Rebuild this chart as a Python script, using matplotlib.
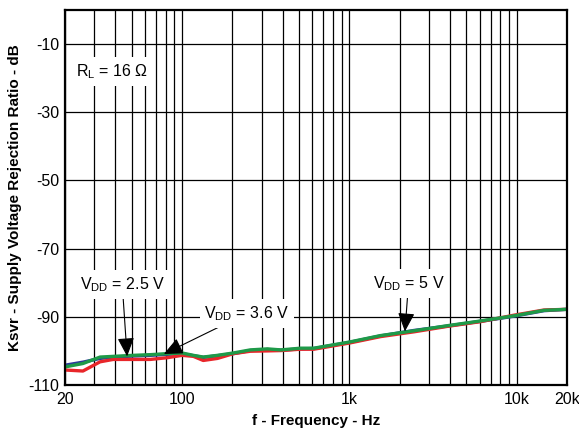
import matplotlib.pyplot as plt
from matplotlib.ticker import FixedLocator, NullFormatter

plt.rcParams['font.family'] = ['Liberation Sans', 'DejaVu Sans']
plt.rcParams['mathtext.fontset'] = 'custom'
plt.rcParams['mathtext.rm'] = 'Liberation Sans'
plt.rcParams['axes.unicode_minus'] = False

# frequency points (Hz) and KSVR curves (dB)
freq = [20, 25.6, 32.4, 38.8, 51.1, 64.6, 81.6, 100, 117, 134, 163, 203, 256,
        324, 390, 511, 614, 1000, 1538, 2437, 3862, 6110, 9690, 14560, 20000]
ksvr_green = [-104.7, -103.7, -101.8, -101.6, -101.3, -101.1, -100.8, -100.6,
              -101.3, -101.8, -101.3, -100.6, -99.7, -99.4, -99.7, -99.2, -99.2,
              -97.4, -95.5, -94.1, -92.6, -91.2, -89.7, -88.1, -87.8]
ksvr_red = [-105.6, -105.9, -103.2, -102.5, -102.5, -102.5, -102.0, -101.3,
            -101.6, -102.8, -102.2, -100.8, -100.1, -100.0, -99.9, -99.5, -99.5,
            -97.7, -95.8, -94.4, -92.8, -91.4, -89.5, -88.0, -87.8]
ksvr_blue = [-104.2, -103.3, -102.2, -101.8, -101.5, -101.3, -101.0, -100.8,
             -101.4, -101.9, -101.4, -100.8, -99.9, -99.6, -99.8, -99.4, -99.3,
             -97.5, -95.6, -94.0, -92.7, -91.3, -89.8, -88.2, -87.8]

xticks = [20, 100, 1000, 10000, 20000]
xtick_labels = ['20', '100', '1k', '10k', '20k']
yticks = [-10, -30, -50, -70, -90, -110]

fig = plt.figure(figsize=(5.79, 4.28), dpi=100)
ax = fig.add_axes([65 / 579, 1 - 385 / 428, 502 / 579, 375 / 428])

ax.plot(freq, ksvr_blue, color='#2b3a9a', lw=2.4, solid_capstyle='round')
ax.plot(freq, ksvr_red, color='#e8262a', lw=2.4, solid_capstyle='round')
ax.plot(freq, ksvr_green, color='#1e9a48', lw=2.4, solid_capstyle='round')

ax.set_xscale('log')
ax.set_xlim(20, 20000)
ax.set_ylim(-110, 0)
ax.set_xticks(xticks)
ax.set_xticklabels(xtick_labels)
ax.xaxis.set_minor_locator(FixedLocator(
    [m * 10 ** e for e in range(1, 5) for m in range(2, 10) if 20 < m * 10 ** e < 20000]))
ax.xaxis.set_minor_formatter(NullFormatter())
ax.set_yticks(yticks)
ax.grid(True, which='both', axis='x', color='black', lw=0.9)
ax.grid(True, which='major', axis='y', color='black', lw=0.9)
ax.tick_params(which='both', length=0, labelsize=11.5)
ax.tick_params(axis='x', pad=5)
ax.tick_params(axis='y', pad=4)
for s in ax.spines.values():
    s.set_linewidth(1.6)

ax.set_xlabel('f - Frequency - Hz', fontsize=11, fontweight='bold', labelpad=5)
ax.set_ylabel('Ksvr - Supply Voltage Rejection Ratio - dB', fontsize=11,
              fontweight='bold', labelpad=5)

box = dict(boxstyle='square,pad=0.3', fc='white', ec='none')
ax.text(23.2, -18, r'R$_\mathregular{L}$ = 16 Ω', fontsize=11.5, va='center', bbox=box)

arrow = dict(arrowstyle='-|>,head_length=1.0,head_width=0.45', color='black', lw=0.8,
             shrinkA=0, shrinkB=0)
ax.annotate(r'V$_\mathregular{DD}$ = 2.5 V', xy=(47, -101.6), xytext=(24.5, -80.5),
            fontsize=11.5, va='center', bbox=box, arrowprops=arrow)
ax.annotate(r'V$_\mathregular{DD}$ = 3.6 V', xy=(78, -100.9), xytext=(136, -89),
            fontsize=11.5, va='center', bbox=box, arrowprops=arrow)
ax.annotate(r'V$_\mathregular{DD}$ = 5 V', xy=(2150, -94.3), xytext=(1380, -80.2),
            fontsize=11.5, va='center', bbox=box, arrowprops=arrow)

fig.savefig('out.png', dpi=100)
